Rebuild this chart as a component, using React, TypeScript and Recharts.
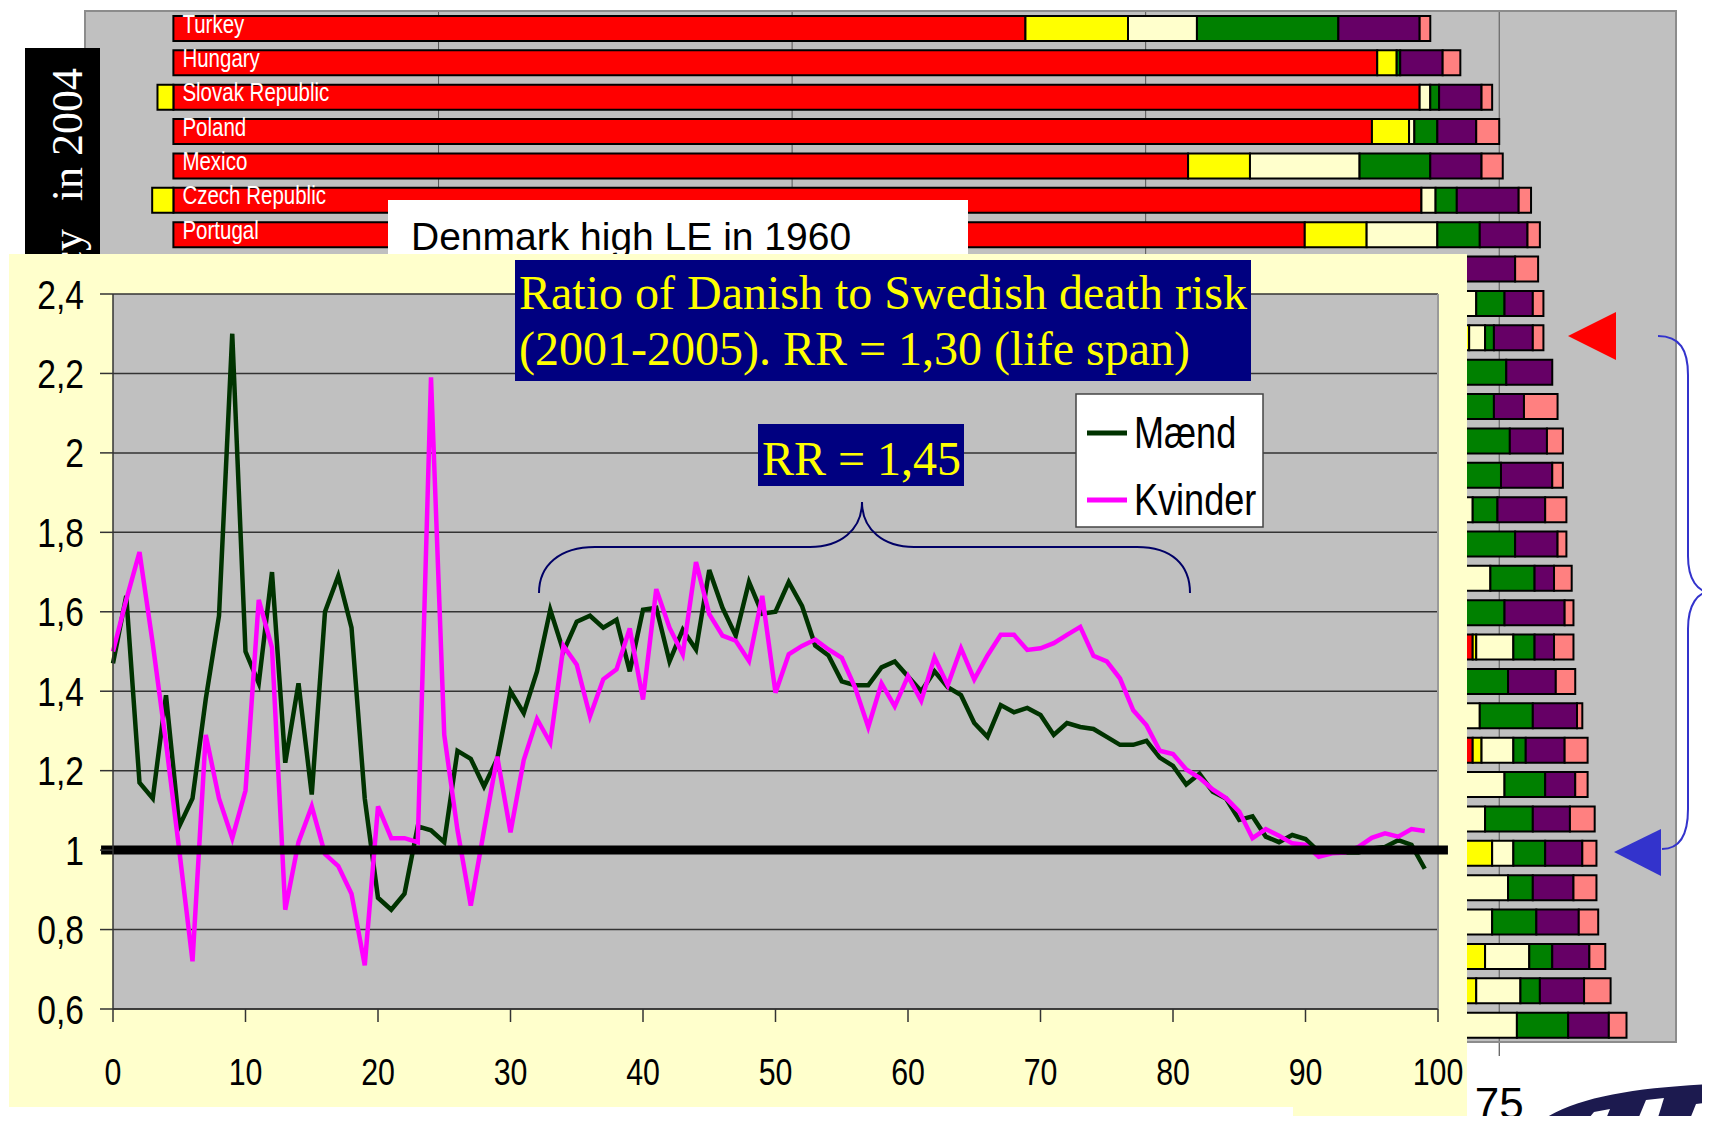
import React from 'react';
import { BarChart, Bar, LineChart, Line, XAxis, YAxis, CartesianGrid, LabelList, ReferenceLine } from 'recharts';

const SANS = "'Liberation Sans', Arial, sans-serif";
const SERIF = "'Liberation Serif', 'Times New Roman', serif";
const NARROW_SCALE = 'scale(0.82,1)'; // Arial Narrow look-alike from Liberation Sans

// background slide chart: life expectancy 2004, split into 1960 level + gains per decade
const countries = ['Turkey', 'Hungary', 'Slovak Republic', 'Poland', 'Mexico', 'Czech Republic', 'Portugal', 'Korea', 'United States', 'Denmark', 'Germany', 'Ireland', 'United Kingdom', 'Belgium', 'Finland', 'Luxembourg', 'Austria', 'Greece', 'Netherlands', 'New Zealand', 'France', 'Norway', 'Italy', 'Canada', 'Sweden', 'Spain', 'Australia', 'Iceland', 'Switzerland', 'Japan'];
const le1960 = [48.2, 68.1, 70.5, 67.8, 57.4, 70.6, 64.0, 52.4, 69.9, 72.4, 69.6, 70.0, 70.6, 69.8, 69.0, 68.9, 68.7, 68.7, 73.5, 70.6, 71.2, 73.5, 71.4, 71.2, 73.1, 69.1, 70.9, 72.9, 71.4, 67.8];
const gain6070 = [5.8, 1.1, -0.9, 2.1, 3.5, -1.2, 3.5, 9.8, 1.0, 0.9, 1.0, 1.2, 1.2, 1.2, 1.4, 1.6, 2.9, 1.4, 0.2, 1.4, 1.1, 0.5, 1.4, 1.5, 1.5, 2.9, 0.8, 1.3, 2.3, 4.2];
const gain7080 = [3.9, 0, 0.6, 0.3, 6.2, 0.8, 4.0, 3.6, 2.8, 0.9, 2.3, 1.4, 1.2, 1.8, 3.1, 2.4, 2.9, 2.5, 2.1, 1.0, 1.6, 1.8, 2.5, 1.5, 1.2, 3.5, 2.9, 2.5, 2.5, 4.0];
const gain8090 = [8.0, 0.2, 0.5, 1.3, 4.0, 1.2, 2.4, 5.5, 1.6, 0.5, 2.5, 2.1, 2.6, 2.3, 1.4, 3.0, 2.5, 2.7, 1.2, 2.5, 3.0, 0.7, 2.3, 2.7, 1.8, 1.4, 2.5, 1.3, 1.1, 2.9];
const gain9000 = [4.6, 2.4, 2.4, 2.2, 2.9, 3.5, 2.7, 4.6, 1.6, 2.2, 2.6, 1.7, 2.1, 2.9, 2.7, 2.4, 1.1, 3.4, 1.1, 2.7, 2.5, 2.2, 1.7, 2.1, 2.1, 2.3, 2.4, 2.1, 2.5, 2.3];
const gain0004 = [0.6, 1.0, 0.6, 1.3, 1.2, 0.7, 0.7, 1.3, 0.6, 0.6, 0, 1.9, 0.9, 0.6, 1.2, 0.5, 1.0, 0.5, 1.1, 1.1, 0.3, 1.3, 0.7, 1.4, 0.8, 1.3, 1.1, 0.9, 1.5, 1.0];
const barTicks = [-5, 15, 35, 55, 75];
const barTickShown = [75]; // the other labels are covered on the slide

// foreground chart: Danish / Swedish death risk ratio by age
const maend = [
  1.47, 1.64, 1.17, 1.13, 1.39, 1.06, 1.13, 1.38, 1.59, 2.30,
  1.50, 1.42, 1.70, 1.22, 1.42, 1.14, 1.60, 1.69, 1.56, 1.13,
  0.88, 0.85, 0.89, 1.06, 1.05, 1.02, 1.25, 1.23, 1.16, 1.23,
  1.40, 1.345, 1.45, 1.605, 1.50, 1.575, 1.59, 1.56, 1.58, 1.45,
  1.605, 1.61, 1.475, 1.555, 1.505, 1.705, 1.61, 1.54, 1.675, 1.595,
  1.60, 1.675, 1.615, 1.515, 1.49, 1.425, 1.415, 1.415, 1.46, 1.475,
  1.437, 1.40, 1.45, 1.41, 1.39, 1.32, 1.285, 1.365, 1.347, 1.358,
  1.34, 1.29, 1.32, 1.31, 1.305, 1.285, 1.265, 1.265, 1.275, 1.233,
  1.212, 1.165, 1.192, 1.147, 1.13, 1.076, 1.085, 1.034, 1.02, 1.038,
  1.028, 0.996, 0.994, 0.994, 0.994, 1.004, 1.008, 1.025, 1.013, 0.953,
];
const kvinder = [
  1.50, 1.63, 1.75, 1.52, 1.27, 1.00, 0.72, 1.29, 1.13, 1.03,
  1.15, 1.63, 1.51, 0.85, 1.02, 1.11, 0.99, 0.96, 0.89, 0.71,
  1.11, 1.03, 1.03, 1.02, 2.19, 1.29, 1.05, 0.86, 1.05, 1.235,
  1.045, 1.227, 1.33, 1.27, 1.514, 1.467, 1.337, 1.43, 1.455, 1.558,
  1.379, 1.657, 1.56, 1.493, 1.725, 1.594, 1.54, 1.527, 1.476, 1.64,
  1.396, 1.493, 1.514, 1.53, 1.505, 1.484, 1.41, 1.31, 1.42, 1.362,
  1.438, 1.376, 1.485, 1.415, 1.508, 1.43, 1.49, 1.542, 1.542, 1.504,
  1.508, 1.521, 1.542, 1.562, 1.489, 1.475, 1.432, 1.352, 1.314, 1.25,
  1.242, 1.203, 1.182, 1.153, 1.131, 1.097, 1.03, 1.053, 1.036, 1.017,
  1.013, 0.983, 0.992, 0.994, 1.008, 1.031, 1.042, 1.034, 1.053, 1.048,
];
const xTicks = [0, 10, 20, 30, 40, 50, 60, 70, 80, 90, 100];
const yTicks = [0.6, 0.8, 1, 1.2, 1.4, 1.6, 1.8, 2, 2.2, 2.4];

const barData = countries.map((country, i) => ({
  country,
  le1960: le1960[i],
  g6070: gain6070[i],
  g7080: gain7080[i],
  g8090: gain8090[i],
  g9000: gain9000[i],
  g0004: gain0004[i],
}));

const lineData = maend.map((m, age) => ({ age, maend: m, kvinder: kvinder[age] }));

const fmtComma = (v: number) => String(Math.round(v * 10) / 10).replace('.', ',');

const countryLabel = (props: any) => {
  const vb = props.viewBox || props;
  return (
    <g transform={`translate(${vb.x + 9},${vb.y + vb.height / 2 + 4})`}>
      <text transform={NARROW_SCALE} fill="#fff" fontSize={25} fontFamily={SANS}>{props.value}</text>
    </g>
  );
};

const AgeTick = (p: any) => (
  <g transform={`translate(${p.x},${p.y})`}>
    <text transform={NARROW_SCALE} textAnchor="middle" dy="0.71em" fontSize={37} fontFamily={SANS} fill="#000">
      {p.payload.value}
    </text>
  </g>
);

const RatioTick = (p: any) => (
  <g transform={`translate(${p.x},${p.y})`}>
    <text transform={NARROW_SCALE} textAnchor="end" dy="0.355em" fontSize={41} fontFamily={SANS} fill="#000">
      {fmtComma(p.payload.value)}
    </text>
  </g>
);

const YearTick = (p: any) =>
  barTickShown.includes(p.payload.value) ? (
    <text x={p.x} y={p.y} dy="0.71em" textAnchor="middle" fontSize={44} fontFamily={SANS} fill="#000">
      {p.payload.value}
    </text>
  ) : <g />;

const abs = (l: number, t: number, w: number, h: number): React.CSSProperties => ({
  position: 'absolute', left: l, top: t, width: w, height: h,
});

export default function App() {
  const barProps = { stackId: 'a', stroke: '#000', strokeWidth: 2, barSize: 25, isAnimationActive: false };
  return (
    <div style={{ position: 'relative', width: 1710, height: 1124, margin: -8, overflow: 'hidden', background: '#fff' }}>
      {/* background bar chart */}
      <div style={abs(0, 0, 1710, 1124)}>
        <BarChart width={1710} height={1124} data={barData} layout="vertical" stackOffset="sign"
          margin={{ top: 11, right: 34, bottom: 0, left: 85 }}>
          <CartesianGrid horizontal={false} stroke="#555" fill="#C0C0C0" />
          <XAxis type="number" domain={[-5, 85]} ticks={barTicks} interval={0} allowDataOverflow height={82}
            tickSize={14} tickMargin={32} axisLine={{ stroke: '#8c8c8c', strokeWidth: 2 }} tickLine={{ stroke: '#333' }}
            tick={YearTick} />
          <YAxis type="category" dataKey="country" hide />
          <Bar dataKey="le1960" fill="#FF0000" {...barProps}>
            <LabelList dataKey="country" content={countryLabel} />
          </Bar>
          <Bar dataKey="g6070" fill="#FFFF00" {...barProps} />
          <Bar dataKey="g7080" fill="#FFFFCC" {...barProps} />
          <Bar dataKey="g8090" fill="#008000" {...barProps} />
          <Bar dataKey="g9000" fill="#660066" {...barProps} />
          <Bar dataKey="g0004" fill="#FF8080" {...barProps} />
        </BarChart>
      </div>

      {/* slide decorations below the overlay panel */}
      <svg style={abs(0, 0, 1710, 1124)} width={1710} height={1124}>
        <rect x={85} y={11} width={1591} height={1031} fill="none" stroke="#8c8c8c" strokeWidth={2} />
        <rect x={25} y={48} width={75} height={220} fill="#000" />
        <text transform="translate(82,68) rotate(-90)" textAnchor="end" fill="#fff" fontSize={44} fontFamily={SERIF}>
          in 2004
        </text>
        <text transform="translate(82,229) rotate(-90)" textAnchor="end" fill="#fff" fontSize={44} fontFamily={SERIF}>
          Life expectancy
        </text>
        <rect x={388} y={200} width={580} height={70} fill="#fff" />
        <text x={411} y={250} fontSize={39} fontFamily={SANS} fill="#000">Denmark high LE in 1960</text>
        <polygon points="1568,336 1616,312 1616,360" fill="#FF0000" />
        <polygon points="1614,852 1661,829 1661,876" fill="#3333CC" />
        <path d="M1658,336 C1680,336 1688,350 1688,375 L1688,556 C1688,580 1698,592 1710,592 C1698,592 1688,604 1688,629 L1688,809 C1688,835 1680,849 1662,849"
          fill="none" stroke="#3333CC" strokeWidth={2} />
        <path d="M1537,1124 C1570,1098 1630,1088 1710,1084 L1710,1124 Z" fill="#1c1a4f" />
        <polygon points="1584,1124 1594,1112 1610,1109 1604,1124" fill="#fff" />
        <polygon points="1636,1124 1646,1100 1664,1098 1656,1124" fill="#fff" />
        <polygon points="1688,1124 1696,1104 1710,1102 1710,1124" fill="#fff" />
      </svg>

      <div style={{ ...abs(0, 1107, 1293, 17), background: '#fff' }} />

      {/* overlay panel */}
      <div style={{ ...abs(9, 254, 1458, 853), background: '#FFFFCC' }}>
        <LineChart width={1458} height={853} data={lineData} margin={{ top: 40, right: 29, bottom: 0, left: 0 }}>
          <CartesianGrid vertical={false} stroke="#333" strokeWidth={1.5} fill="#C0C0C0" />
          <XAxis type="number" dataKey="age" domain={[0, 100]} ticks={xTicks} interval={0} height={98}
            tickSize={13} tickMargin={37} axisLine={{ stroke: '#333', strokeWidth: 1.5 }}
            tickLine={{ stroke: '#333', strokeWidth: 1.5 }} tick={AgeTick} />
          <YAxis type="number" domain={[0.6, 2.4]} ticks={yTicks} interval={0} width={104} allowDataOverflow
            tickSize={13} tickMargin={16} axisLine={{ stroke: '#333', strokeWidth: 1.5 }}
            tickLine={{ stroke: '#333', strokeWidth: 1.5 }} tick={RatioTick} />
          <ReferenceLine x={100} stroke="#9a9a9a" strokeWidth={2} />
          <Line type="linear" dataKey="maend" name="Mænd" stroke="#003300" strokeWidth={4.5} dot={false} isAnimationActive={false} />
          <Line type="linear" dataKey="kvinder" name="Kvinder" stroke="#FF00FF" strokeWidth={4.5} dot={false} isAnimationActive={false} />
          <ReferenceLine segment={[{ x: -0.9, y: 1 }, { x: 100.75, y: 1 }]} stroke="#000" strokeWidth={9} ifOverflow="visible" />
        </LineChart>
      </div>
      <div style={{ ...abs(1293, 1107, 174, 17), background: '#FFFFCC' }} />

      {/* annotations on top */}
      <svg style={abs(0, 0, 1710, 1124)} width={1710} height={1124}>
        <rect x={515} y={260} width={736} height={121} fill="#000080" />
        <text x={519} y={309} fill="#FFFF00" fontSize={48} fontFamily={SERIF}>Ratio of Danish to Swedish death risk</text>
        <text x={519} y={365} fill="#FFFF00" fontSize={48} fontFamily={SERIF}>(2001-2005). RR = 1,30 (life span)</text>
        <rect x={758} y={424} width={206} height={62} fill="#000080" />
        <text x={762} y={475} fill="#FFFF00" fontSize={48} fontFamily={SERIF}>RR = 1,45</text>
        <path d="M539,593 C539,565 560,547 595,547 L810,547 C840,547 862,530 862,502 C862,530 884,547 914,547 L1137,547 C1172,547 1190,565 1190,593"
          fill="none" stroke="#000066" strokeWidth={2} />
        <rect x={1076} y={394} width={187} height={133} fill="#fff" stroke="#444" strokeWidth={1.5} />
        <line x1={1087} y1={433} x2={1127} y2={433} stroke="#003300" strokeWidth={5} />
        <g transform="translate(1134,448)">
          <text transform={NARROW_SCALE} fontSize={44} fontFamily={SANS} fill="#000">Mænd</text>
        </g>
        <line x1={1087} y1={500} x2={1127} y2={500} stroke="#FF00FF" strokeWidth={5} />
        <g transform="translate(1134,515)">
          <text transform={NARROW_SCALE} fontSize={44} fontFamily={SANS} fill="#000">Kvinder</text>
        </g>
      </svg>
    </div>
  );
}
